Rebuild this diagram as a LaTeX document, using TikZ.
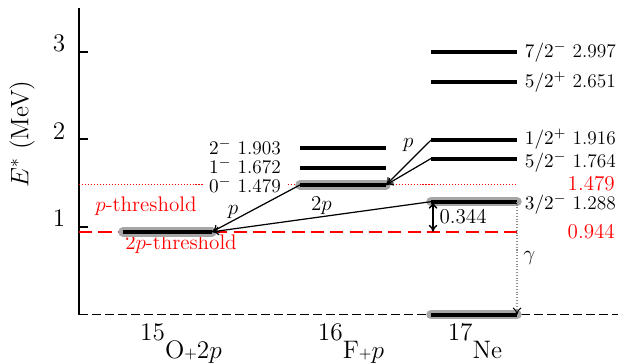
\documentclass[tikz,border=0pt]{standalone}
\usepackage{amsmath}
\usetikzlibrary{arrows.meta, positioning}
\newcommand{\nlevel}[5]{%
  % #1 = name, #2 = x start, #3 = x end, #4 = energy, #5 = gray band (1/0)
  \coordinate (#1-l) at (#2,#4);
  \coordinate (#1-r) at (#3,#4);
  \ifnum#5>0\relax
    \draw[band] (#1-l) -- (#1-r);
  \fi
  \draw[level] (#1-l) -- (#1-r);
}
\tikzset{
  level/.style={line width=2.3pt},
  band/.style={line width=5.4pt, black!35, line cap=round},
  thr/.style={red, line width=0.8pt, dash pattern=on 7.5pt off 3.5pt},
  thrdot/.style={red, line width=0.6pt, dash pattern=on 0.6pt off 1.1pt},
  lbl/.style={font=\fontsize{11pt}{13pt}\selectfont, inner ysep=0pt},
  biglbl/.style={font=\large, inner ysep=1pt},
  nucl/.style={font=\Large, anchor=base, inner ysep=0pt},
  trans/.style={->, line width=0.7pt},
}

\begin{document}
\begin{tikzpicture}[x=0.02cm, y=1.754cm, >={To[length=4pt, width=5pt]}]
    \useasboundingbox (0,-0.562) rectangle (618,3.588);

    % axis
    \coordinate (O) at (79, 0);
    \coordinate (T) at (79, 3.5);
    \draw[line width=1.1pt] (O) -- (T);
    \foreach \e in {1,2,3} {
      \draw[line width=1.1pt] (79,\e) -- (88,\e);
      \node[anchor=base, font=\Large] (tick\e) at (59,\e) {\e};
    }
    \node[rotate=90, font=\Large] (ylab) at (22, 2.06) {$E^{*}$ (MeV)};

    \coordinate (Z) at (618, 0);
    \draw[line width=0.75pt, dash pattern=on 5pt off 2.4pt] (O) -- (Z);

    % thresholds
    \coordinate (pth-l) at (79, 1.479);
    \coordinate (pth-r) at (517, 1.479);
    \coordinate (tpth-l) at (79, 0.944);
    \coordinate (tpth-r) at (517, 0.944);
    \draw[thrdot] (pth-l) -- (pth-r);
    \draw[thr] (tpth-l) -- (tpth-r);
    \node[red, font=\large] (pthlab) at (146, 1.237) {$p$-threshold};
    \node[red, font=\large] (tpthlab) at (181, 0.80) {2$p$-threshold};

    % levels
    \nlevel{o15}{123}{212}{0.944}{1}
    \nlevel{f0}{300}{386}{1.479}{1}
    \nlevel{f1}{300}{386}{1.672}{0}
    \nlevel{f2}{300}{386}{1.903}{0}
    \nlevel{ne0}{431}{517}{0}{1}
    \nlevel{ne3}{431}{517}{1.288}{1}
    \nlevel{ne5}{431}{517}{1.78}{0}
    \nlevel{ne1}{431}{517}{1.99}{0}
    \nlevel{ne6}{431}{517}{2.651}{0}
    \nlevel{ne7}{431}{517}{2.997}{0}

    \node[lbl, anchor=east] (f2lab) at (287, 1.915) {$2^-$ 1.903};
    \node[lbl, anchor=east] (f1lab) at (287, 1.70) {$1^-$ 1.672};
    \node[lbl, anchor=east, fill=white, inner ysep=1pt] (f0lab) at (287, 1.479) {$0^-$ 1.479};

    \node[lbl, right, xshift=1pt] (ne7lab) at (ne7-r) {$7/2^-$ 2.997};
    \node[lbl, right, xshift=1pt] (ne6lab) at (ne6-r) {$5/2^+$ 2.651};
    \node[lbl, right, xshift=1pt, yshift=0.5pt] (ne1lab) at (ne1-r) {$1/2^+$ 1.916};
    \node[lbl, right, xshift=1pt, yshift=-2pt] (ne5lab) at (ne5-r) {$5/2^-$ 1.764};
    \node[lbl, right, xshift=1pt, yshift=-1.5pt] (ne3lab) at (ne3-r) {$3/2^-$ 1.288};
    \node[biglbl, red, anchor=east, inner ysep=0pt, yshift=1pt] (pthval) at (621, 1.479) {1.479};
    \node[biglbl, red, anchor=east, inner ysep=0pt] (tpthval) at (621, 0.944) {0.944};

    % decays
    \draw[trans] (f0-l) -- (o15-r) node[pos=0.76, above, biglbl] (pa) {$p$};
    \draw[trans] (ne3-l) -- (o15-r) node[pos=0.5, above, biglbl] (ppa) {2$p$};
    \draw[trans] (ne5-l) -- (f0-r);
    \draw[trans] (ne1-l) -- (f0-r) node[pos=0.3, above left, biglbl, inner xsep=2pt] (pb) {$p$};

    \coordinate (gap-t) at (433, 1.288);
    \coordinate (gap-b) at (433, 0.944);
    \draw[<->, line width=0.8pt] (gap-t) -- (gap-b) node[midway, right, biglbl] (gaplab) {0.344};

    \draw[densely dotted, black!45, line width=0.6pt, -{To[black, length=4pt, width=5pt]}] (ne3-r) -- (ne0-r)
      node[midway, right, biglbl, black] (glab) {$\gamma$};

    \node[nucl] (o15lab) at (181, -0.505) {\raisebox{0.72em}{15}O{\small+}2$p$};
    \node[nucl] (f16lab) at (351, -0.505) {\raisebox{0.72em}{16}F{\small+}$p$};
    \node[nucl] (ne17lab) at (475, -0.505) {\raisebox{0.72em}{17}Ne};

\end{tikzpicture}
\end{document}
